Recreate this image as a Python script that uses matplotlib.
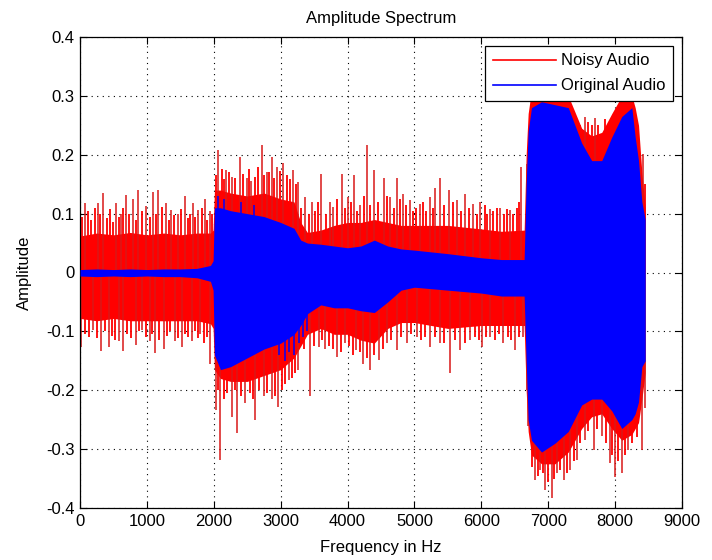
import matplotlib
matplotlib.use('Agg')
import matplotlib.pyplot as plt
from matplotlib.lines import Line2D

plt.rcParams['font.family'] = ['Liberation Sans', 'DejaVu Sans']

# ---- data ----
env_freq = [0, 250, 500, 750, 1000, 1250, 1500, 1750, 1950, 1990, 2010, 2100, 2250, 2500,
            2750, 3000, 3200, 3300, 3400, 3600, 3800, 4000, 4200, 4400, 4600, 4800, 5000,
            5500, 6000, 6300, 6640, 6670, 6700, 6750, 6900, 7100, 7300, 7500, 7650, 7800,
            7950, 8100, 8250, 8300, 8350, 8400, 8450]

noisy_hi = [0.062, 0.067, 0.064, 0.068, 0.064, 0.067, 0.064, 0.067, 0.067, 0.072, 0.140,
            0.140, 0.135, 0.130, 0.135, 0.125, 0.120, 0.085, 0.068, 0.072, 0.080, 0.085,
            0.085, 0.090, 0.085, 0.080, 0.080, 0.080, 0.074, 0.070, 0.072, 0.200, 0.270,
            0.310, 0.330, 0.320, 0.300, 0.245, 0.232, 0.238, 0.270, 0.300, 0.300, 0.280,
            0.250, 0.170, 0.110]
noisy_lo = [-0.078, -0.082, -0.078, -0.082, -0.082, -0.082, -0.082, -0.082, -0.087, -0.095,
            -0.165, -0.180, -0.185, -0.185, -0.175, -0.165, -0.145, -0.125, -0.105, -0.095,
            -0.105, -0.105, -0.115, -0.120, -0.095, -0.085, -0.085, -0.095, -0.090, -0.090,
            -0.090, -0.200, -0.270, -0.310, -0.325, -0.325, -0.305, -0.265, -0.245, -0.240,
            -0.265, -0.285, -0.275, -0.265, -0.255, -0.215, -0.170]
orig_hi = [0.005, 0.006, 0.005, 0.006, 0.005, 0.006, 0.006, 0.007, 0.012, 0.020, 0.110,
           0.110, 0.105, 0.100, 0.095, 0.085, 0.075, 0.055, 0.050, 0.048, 0.045, 0.042,
           0.045, 0.055, 0.045, 0.040, 0.038, 0.032, 0.025, 0.022, 0.022, 0.150, 0.240,
           0.280, 0.290, 0.285, 0.280, 0.220, 0.190, 0.190, 0.230, 0.265, 0.280, 0.230,
           0.190, 0.120, 0.090]
orig_lo = [-0.006, -0.007, -0.006, -0.007, -0.006, -0.007, -0.007, -0.009, -0.015, -0.030,
           -0.140, -0.165, -0.160, -0.145, -0.130, -0.120, -0.105, -0.090, -0.070, -0.055,
           -0.060, -0.060, -0.065, -0.068, -0.050, -0.030, -0.025, -0.030, -0.035, -0.040,
           -0.040, -0.150, -0.250, -0.285, -0.305, -0.290, -0.270, -0.225, -0.215, -0.215,
           -0.235, -0.265, -0.250, -0.240, -0.220, -0.160, -0.150]

# noisy-signal peaks (positive side, tallest)
spike_up_freq = [70, 270, 340, 540, 610, 690, 790, 870, 990, 1090, 1170, 1290, 1360, 1460,
                 1570, 1690, 1760, 1870, 1940,
                 2070, 2190, 2270, 2390, 2490, 2560, 2720, 2790, 2870, 2940, 3040, 3190,
                 3260, 3360, 3470, 3610, 3740,
                 3780, 3910, 4010, 4090, 4190, 4290, 4390, 4540, 4640, 4740, 4830, 4930,
                 5080, 5230, 5310, 5380, 5510, 5630, 5760, 5880, 5980, 6130, 6280, 6430,
                 6600, 6680, 6730, 7550, 7700, 8370, 8420]
spike_up_val = [0.118, 0.118, 0.135, 0.118, 0.100, 0.131, 0.125, 0.140, 0.113, 0.137, 0.140,
                0.118, 0.107, 0.100, 0.130, 0.118, 0.107, 0.125, 0.105,
                0.208, 0.174, 0.163, 0.197, 0.160, 0.155, 0.216, 0.170, 0.197, 0.180, 0.186,
                0.174, 0.153, 0.128, 0.120, 0.168, 0.120,
                0.112, 0.168, 0.129, 0.166, 0.115, 0.216, 0.174, 0.160, 0.129, 0.160, 0.134,
                0.123, 0.117, 0.129, 0.143, 0.160, 0.140, 0.123, 0.134, 0.117, 0.120, 0.108,
                0.110, 0.106, 0.180, 0.185, 0.242, 0.264, 0.262, 0.180, 0.202]

# noisy-signal peaks (positive side, smaller ones)
minor_up_freq = [30, 120, 170, 220, 300, 400, 450, 490, 580, 650, 740, 830, 920, 1040, 1130,
                 1220, 1330, 1410, 1510, 1620, 1650, 1720, 1820, 1900, 1980,
                 2030, 2120, 2150, 2230, 2320, 2440, 2530, 2610, 2660, 2750, 2830, 2900,
                 2990, 3090, 3140, 3230,
                 3300, 3420, 3520, 3560, 3680, 3840, 3960, 4050, 4140, 4240, 4340, 4460,
                 4590, 4690, 4790, 4880, 4980, 5030, 5130, 5180, 5270, 5440, 5570, 5690,
                 5820, 5930, 6050, 6080, 6180, 6230, 6340, 6380, 6480, 6530, 6560,
                 7480, 7600, 7650, 7750, 7850, 8380, 8440]
minor_up_val = [0.095, 0.105, 0.090, 0.110, 0.100, 0.092, 0.108, 0.085, 0.095, 0.110, 0.100,
                0.090, 0.105, 0.095, 0.100, 0.112, 0.090, 0.098, 0.108, 0.092, 0.100, 0.095,
                0.110, 0.090, 0.100,
                0.165, 0.175, 0.158, 0.170, 0.160, 0.168, 0.176, 0.162, 0.180, 0.165, 0.170,
                0.160, 0.172, 0.165, 0.158, 0.150,
                0.110, 0.100, 0.105, 0.120, 0.100, 0.125, 0.110, 0.120, 0.105, 0.130, 0.115,
                0.120, 0.130, 0.110, 0.125, 0.115, 0.105, 0.110, 0.120, 0.105, 0.110, 0.115,
                0.120, 0.105, 0.110, 0.100, 0.115, 0.100, 0.105, 0.110, 0.100, 0.108, 0.100,
                0.110, 0.120,
                0.250, 0.255, 0.250, 0.250, 0.260, 0.170, 0.150]

# noisy-signal peaks (negative side, tallest)
spike_dn_freq = [20, 200, 310, 430, 580, 650, 830, 930, 1040, 1120, 1250, 1420, 1520, 1670,
                 1800, 1950,
                 2030, 2090, 2270, 2340, 2470, 2620, 2750, 2870, 2960, 3120, 3260, 3440,
                 3570, 3660,
                 3840, 3960, 4130, 4230, 4340, 4470, 4590, 4740, 4890, 5040, 5230, 5380,
                 5530, 5680, 5830, 6010, 6130, 6330, 6500, 6630, 6690,
                 6700, 6800, 6880, 6950, 7050, 7130, 7230, 7330, 7430, 7550, 7680, 7800,
                 7920, 8000, 8100, 8200, 8400, 8450]
spike_dn_val = [-0.126, -0.098, -0.134, -0.126, -0.117, -0.134, -0.123, -0.098, -0.116,
                -0.137, -0.130, -0.116, -0.126, -0.117, -0.105, -0.155,
                -0.233, -0.318, -0.245, -0.273, -0.222, -0.250, -0.210, -0.215, -0.228,
                -0.183, -0.165, -0.210, -0.126, -0.130,
                -0.143, -0.120, -0.132, -0.155, -0.166, -0.148, -0.120, -0.132, -0.120,
                -0.110, -0.126, -0.120, -0.171, -0.132, -0.115, -0.126, -0.110, -0.120,
                -0.132, -0.110, -0.200,
                -0.260, -0.352, -0.335, -0.369, -0.383, -0.340, -0.352, -0.335, -0.318,
                -0.284, -0.301, -0.278, -0.324, -0.347, -0.340, -0.301, -0.301, -0.230]

# noisy-signal peaks (negative side, smaller ones)
minor_dn_freq = [80, 140, 250, 370, 480, 520, 710, 760, 880, 980, 1080, 1180, 1300, 1350,
                 1470, 1570, 1620, 1720, 1760, 1860, 1900,
                 2060, 2150, 2200, 2310, 2400, 2540, 2580, 2680, 2800, 2920, 3020, 3060,
                 3170, 3220,
                 3350, 3500, 3620, 3720, 3780, 3900, 4020, 4080, 4180, 4290, 4400, 4530,
                 4650, 4800, 4950, 5100, 5160, 5300, 5440, 5600, 5750, 5900, 5960, 6070,
                 6200, 6270, 6400, 6450, 6570,
                 6760, 6840, 6920, 7000, 7090, 7180, 7280, 7380, 7480, 7600, 7730, 7860,
                 7960, 8050, 8150, 8250, 8330]
minor_dn_val = [-0.105, -0.110, -0.112, -0.100, -0.108, -0.115, -0.105, -0.112, -0.100,
                -0.110, -0.104, -0.115, -0.108, -0.100, -0.112, -0.105, -0.110, -0.100,
                -0.112, -0.120, -0.110,
                -0.200, -0.215, -0.205, -0.200, -0.210, -0.205, -0.215, -0.200, -0.205,
                -0.210, -0.200, -0.190, -0.180, -0.170,
                -0.130, -0.125, -0.115, -0.125, -0.130, -0.135, -0.125, -0.140, -0.135,
                -0.145, -0.140, -0.130, -0.115, -0.110, -0.105, -0.115, -0.110, -0.110,
                -0.120, -0.115, -0.120, -0.110, -0.115, -0.110, -0.115, -0.105, -0.110,
                -0.115, -0.110,
                -0.330, -0.345, -0.340, -0.355, -0.350, -0.335, -0.340, -0.320, -0.290,
                -0.270, -0.265, -0.290, -0.310, -0.320, -0.310, -0.290, -0.280]

# original-signal peaks poking out of its band
orig_peak_freq = [2060, 2150, 2400, 2600, 2980, 3060, 3130, 3200, 3270, 3340, 3400]
orig_peak_val = [0.130, 0.125, 0.120, 0.115, -0.140, -0.150, -0.135, -0.140, -0.120,
                 -0.110, -0.100]

x_ticks = [0, 1000, 2000, 3000, 4000, 5000, 6000, 7000, 8000, 9000]
x_tick_labels = ['0', '1000', '2000', '3000', '4000', '5000', '6000', '7000', '8000', '9000']
y_ticks = [-0.4, -0.3, -0.2, -0.1, 0.0, 0.1, 0.2, 0.3, 0.4]
y_tick_labels = ['-0.4', '-0.3', '-0.2', '-0.1', '0', '0.1', '0.2', '0.3', '0.4']

# ---- figure ----
fig = plt.figure(figsize=(7.12, 5.6), dpi=100)
ax = fig.add_axes([80 / 712, 52 / 560, 602 / 712, 471 / 560])

RED = '#ff0000'
SPIKE_RED = '#d81818'
BLUE = '#0000ff'

ax.fill_between(env_freq, noisy_lo, noisy_hi, color=RED, lw=0, zorder=2)
ax.vlines(minor_up_freq, 0, minor_up_val, color=RED, lw=1.3, zorder=2)
ax.vlines(minor_dn_freq, 0, minor_dn_val, color=RED, lw=1.3, zorder=2)
ax.vlines(spike_up_freq, 0, spike_up_val, color=SPIKE_RED, lw=1.1, zorder=2)
ax.vlines(spike_dn_freq, 0, spike_dn_val, color=SPIKE_RED, lw=1.1, zorder=2)
ax.fill_between(env_freq, orig_lo, orig_hi, color=BLUE, lw=0, zorder=3)
ax.vlines(orig_peak_freq, 0, orig_peak_val, color=BLUE, lw=1.1, zorder=3)

ax.set_xlim(0, 9000)
ax.set_ylim(-0.4, 0.4)
ax.set_xticks(x_ticks)
ax.set_xticklabels(x_tick_labels)
ax.set_yticks(y_ticks)
ax.set_yticklabels(y_tick_labels)

ax.grid(True, color='black', linestyle=(0, (1, 4)), linewidth=0.8)
ax.set_axisbelow(True)
ax.tick_params(direction='in', top=True, right=True, length=5, width=0.8,
               labelsize=12, colors='black', pad=4)
for s in ax.spines.values():
    s.set_linewidth(0.9)
    s.set_color('black')

ax.set_title('Amplitude Spectrum', fontsize=12, pad=10)
ax.set_xlabel('Frequency in Hz', fontsize=12, labelpad=8)
ax.set_ylabel('Amplitude', fontsize=12, labelpad=10)

handles = [Line2D([0], [0], color=RED, lw=1.2),
           Line2D([0], [0], color=BLUE, lw=1.2)]
leg = ax.legend(handles, ['Noisy Audio', 'Original Audio'], loc='upper right',
                bbox_to_anchor=(0.985, 0.981), borderaxespad=0, fancybox=False,
                framealpha=1, edgecolor='black', fontsize=12, handlelength=3.8,
                handletextpad=0.3, borderpad=0.45, labelspacing=0.6)
leg.get_frame().set_linewidth(0.9)
leg.set_zorder(10)

fig.savefig('out.png', dpi=100)
